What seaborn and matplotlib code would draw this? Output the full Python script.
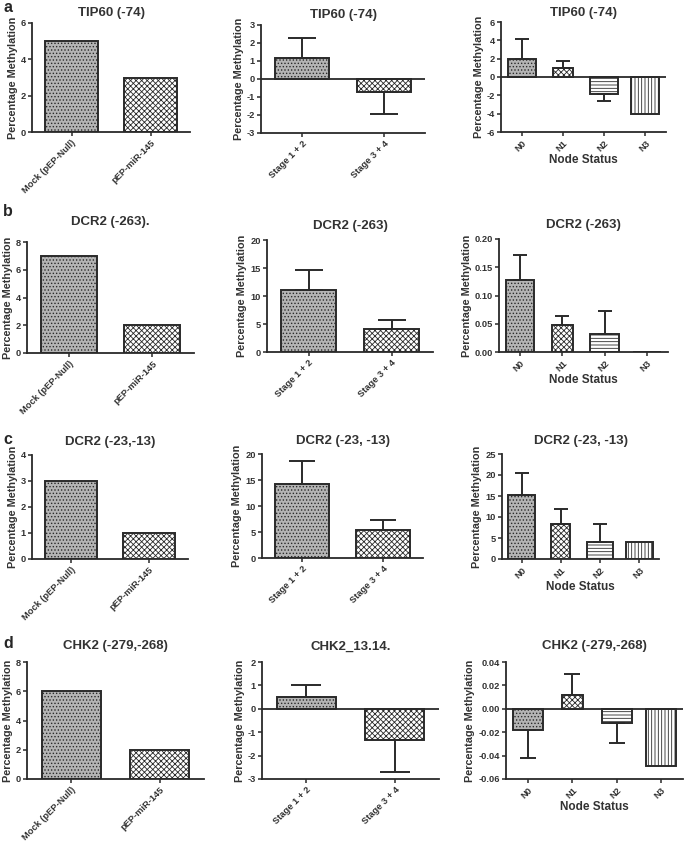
import numpy as np
import matplotlib
matplotlib.use("Agg")
import matplotlib.pyplot as plt
import seaborn as sns
from matplotlib.ticker import FormatStrFormatter

sns.set_style("white")
plt.rcParams['font.family'] = ['Liberation Sans', 'DejaVu Sans']
plt.rcParams['hatch.linewidth'] = 0.6

# categories
cell_cats = ["Mock (pEP-Null)", "pEP-miR-145"]
stage_cats = ["Stage 1 + 2", "Stage 3 + 4"]
node_cats = ["N0", "N1", "N2", "N3"]

# row a: TIP60 (-74)
a_cell = [5, 3]
a_stage = [1.15, -0.7]
a_stage_err = [1.1, 1.25]
a_node = [2.0, 1.0, -1.8, -4.0]
a_node_err = [2.1, 0.7, 0.8, 0]

# row b: DCR2 (-263)
b_cell = [7, 2]
b_stage = [11.1, 4.1]
b_stage_err = [3.6, 1.6]
b_node = [0.128, 0.047, 0.032, 0.0]
b_node_err = [0.043, 0.017, 0.040, 0]

# row c: DCR2 (-23,-13)
c_cell = [3, 1]
c_stage = [14.2, 5.4]
c_stage_err = [4.5, 1.9]
c_node = [15.3, 8.4, 4.1, 4.1]
c_node_err = [5.1, 3.6, 4.2, 0]

# row d: CHK2
d_cell = [6, 2]
d_stage = [0.5, -1.35]
d_stage_err = [0.5, 1.37]
d_node = [-0.018, 0.012, -0.012, -0.049]
d_node_err = [0.024, 0.018, 0.017, 0]

titles = [
    ["TIP60 (-74)", "TIP60 (-74)", "TIP60 (-74)"],
    ["DCR2 (-263).", "DCR2 (-263)", "DCR2 (-263)"],
    ["DCR2 (-23,-13)", "DCR2 (-23, -13)", "DCR2 (-23, -13)"],
    ["CHK2 (-279,-268)", "CHK2_13.14.", "CHK2 (-279,-268)"],
]
panel_letters = ["a", "b", "c", "d"]

yticks = [
    [np.arange(0, 7, 2), np.arange(-3, 4, 1), np.arange(-6, 7, 2)],
    [np.arange(0, 9, 2), np.arange(0, 21, 5), np.arange(0, 0.21, 0.05)],
    [np.arange(0, 5, 1), np.arange(0, 21, 5), np.arange(0, 26, 5)],
    [np.arange(0, 9, 2), np.arange(-3, 3, 1), np.arange(-0.06, 0.041, 0.02)],
]

rows = [
    [(cell_cats, a_cell, None), (stage_cats, a_stage, a_stage_err), (node_cats, a_node, a_node_err)],
    [(cell_cats, b_cell, None), (stage_cats, b_stage, b_stage_err), (node_cats, b_node, b_node_err)],
    [(cell_cats, c_cell, None), (stage_cats, c_stage, c_stage_err), (node_cats, c_node, c_node_err)],
    [(cell_cats, d_cell, None), (stage_cats, d_stage, d_stage_err), (node_cats, d_node, d_node_err)],
]

# axes boxes in pixels: left, right, top, bottom
W, H = 685, 841
boxes = [
    [(32, 190, 23, 132), (261, 425, 25, 133), (501, 666, 22, 132)],
    [(27, 194, 242, 353), (267, 433, 240, 352), (499, 668, 239, 352)],
    [(32, 188, 455, 559), (262, 423, 454, 558), (502, 659, 454, 559)],
    [(27, 204, 662, 779), (262, 439, 662, 779), (506, 683, 662, 779)],
]
letter_y = [7, 212, 440, 643]
title_pad = [[5, 5, 4], [12, 8, 8], [7, 7, 7], [9, 9, 9]]

styles = [
    dict(fc="#b4b4b4", hatch="....."),
    dict(fc="white", hatch="xxxxxx"),
    dict(fc="white", hatch="-----"),
    dict(fc="white", hatch="|||||"),
]
edge = "#2a2a2a"

fig = plt.figure(figsize=(W / 100, H / 100), dpi=100)

for r in range(4):
    for c in range(3):
        l, rr, t, b = boxes[r][c]
        ax = fig.add_axes([l / W, 1 - b / H, (rr - l) / W, (b - t) / H])
        cats, vals, errs = rows[r][c]
        n = len(cats)
        bw = 0.67 if n == 2 else 0.68
        sns.barplot(x=cats, y=vals, ax=ax, color="white", width=bw, errorbar=None)
        for i, p in enumerate(ax.patches):
            st = styles[i]
            p.set_facecolor(st["fc"])
            p.set_hatch(st["hatch"])
            p.set_edgecolor(edge)
            p.set_linewidth(1.4)
            if n == 4 and i == 1:
                cx = p.get_x() + p.get_width() / 2
                p.set_width(bw * 0.72)
                p.set_x(cx - bw * 0.36)
        if errs is not None:
            xs = np.arange(n)
            lower = [e if v < 0 else 0 for v, e in zip(vals, errs)]
            upper = [e if v >= 0 else 0 for v, e in zip(vals, errs)]
            axw = rr - l
            cap = 0.5 * bw * axw / n * 0.72
            for i in range(n):
                if errs[i] > 0:
                    ax.errorbar(xs[i], vals[i], yerr=[[lower[i]], [upper[i]]],
                                fmt="none", ecolor=edge, elinewidth=1.4,
                                capsize=cap * 0.5, capthick=1.4, zorder=1)
        ax.set_xlim(-0.5, n - 0.5)
        yt = yticks[r][c]
        ax.set_yticks(yt)
        ax.set_ylim(yt[0], yt[-1])
        if c == 2 and r in (1, 3):
            ax.yaxis.set_major_formatter(FormatStrFormatter("%.2f"))
        else:
            ax.yaxis.set_major_formatter(FormatStrFormatter("%d"))
        if yt[0] < 0:
            ax.axhline(0, color=edge, lw=1.3, zorder=3)
        for s in ["top", "right"]:
            ax.spines[s].set_visible(False)
        for s in ["left", "bottom"]:
            ax.spines[s].set_color(edge)
            ax.spines[s].set_linewidth(1.3)
        ax.tick_params(axis="both", direction="out", length=3, width=1.1,
                       color=edge, labelsize=6.7, pad=1.5)
        ax.tick_params(axis="x", bottom=True)
        ax.tick_params(axis="y", left=True)
        ax.set_xticks(range(n))
        ax.set_xticklabels(cats, rotation=45, ha="right", rotation_mode="anchor",
                           fontweight="bold", color="#333333")
        for lab in ax.get_yticklabels():
            lab.set_fontweight("bold")
            lab.set_color("#333333")
        ax.set_ylabel("Percentage Methylation", fontsize=7.8, fontweight="bold",
                      color="#333333", labelpad=2)
        if c == 2:
            ax.set_xlabel("Node Status", fontsize=8.5, fontweight="bold",
                          color="#333333", labelpad=1)
        else:
            ax.set_xlabel("")
        ax.set_title(titles[r][c], fontsize=9.5, fontweight="bold", color="#333333",
                     pad=title_pad[r][c])
    fig.text(3 / W, 1 - letter_y[r] / H, panel_letters[r], fontsize=11.5,
             fontweight="bold", va="center", ha="left")

fig.savefig("out.png", dpi=100)
